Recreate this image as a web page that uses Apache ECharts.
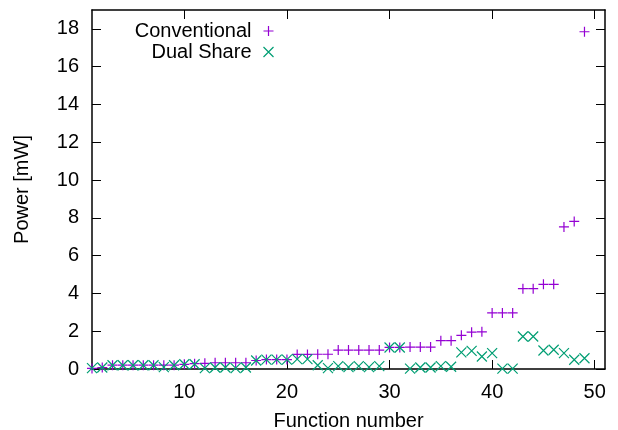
<!DOCTYPE html>
<html>
<head>
<meta charset="utf-8">
<script src="https://cdn.jsdelivr.net/npm/echarts@6/dist/echarts.min.js"></script>
<style>html,body{margin:0;padding:0;background:#fff}#c{width:618px;height:430px}</style>
</head>
<body>
<div id="c"></div>
<script>
const functionNumbers = [1,2,3,4,5,6,7,8,9,10,11,12,13,14,15,16,17,18,19,20,21,22,23,24,25,26,27,28,29,30,31,32,33,34,35,36,37,38,39,40,41,42,43,44,45,46,47,48,49];
const conventional = [0.03,0.08,0.2,0.2,0.2,0.2,0.2,0.2,0.2,0.25,0.28,0.3,0.33,0.33,0.33,0.33,0.45,0.5,0.5,0.5,0.77,0.77,0.78,0.78,1.0,1.0,1.0,1.0,1.0,1.14,1.14,1.16,1.16,1.16,1.5,1.5,1.78,1.95,1.97,2.97,2.97,2.97,4.25,4.25,4.48,4.48,7.52,7.81,17.85];
const dualShare = [0.05,0.08,0.2,0.2,0.2,0.2,0.2,0.1,0.2,0.25,0.25,0.05,0.08,0.08,0.05,0.08,0.45,0.5,0.5,0.5,0.52,0.52,0.2,0.05,0.15,0.1,0.15,0.1,0.15,1.14,1.14,0.02,0.08,0.08,0.15,0.12,0.88,0.96,0.66,0.84,0.02,0.02,1.72,1.72,0.98,1.02,0.84,0.49,0.57];
const xTicks = [10,20,30,40,50];
const yTicks = [0,2,4,6,8,10,12,14,16,18];
const seriesNames = ['Conventional','Dual Share'];

const PLUS = 'path://M0,5L10,5M5,0L5,10';
const CROSS = 'path://M0,0L10,10M10,0L0,10';
const C1 = '#9400d3', C2 = '#009e73';
const FONT = 'Liberation Sans';
const FS = 20;

const chart = echarts.init(document.getElementById('c'), null, {renderer:'canvas'});
const axisLineStyle = {color:'#000', width:1.5};
const tickStyle = {color:'#000', width:1};
function xAxisDef(pos, showLabel){
  return {
    type:'value', position:pos, min:1, max:51,
    axisLine:{show:true, onZero:false, lineStyle:axisLineStyle},
    axisTick:{show:true, inside:true, length:9, customValues:xTicks, lineStyle:tickStyle},
    axisLabel:{show:showLabel, customValues:xTicks, color:'#000', fontFamily:FONT, fontSize:FS, margin:13},
    splitLine:{show:false},
    name: showLabel ? 'Function number' : '',
    nameLocation:'middle', nameGap:42,
    nameTextStyle:{color:'#000', fontFamily:FONT, fontSize:FS}
  };
}
function yAxisDef(pos, showLabel){
  return {
    type:'value', position:pos, min:0, max:19,
    axisLine:{show:true, onZero:false, lineStyle:axisLineStyle},
    axisTick:{show:true, inside:true, length:9, customValues:yTicks, lineStyle:tickStyle},
    axisLabel:{show:showLabel, customValues:yTicks, color:'#000', fontFamily:FONT, fontSize:FS, margin:13},
    splitLine:{show:false},
    name: showLabel ? 'Power [mW]' : '',
    nameLocation:'middle', nameGap:60, nameRotate:90,
    nameTextStyle:{color:'#000', fontFamily:FONT, fontSize:FS}
  };
}
chart.setOption({
  animation:false,
  backgroundColor:'#fff',
  grid:{left:92, right:13, top:10, bottom:61, containLabel:false, outerBoundsMode:'none'},
  xAxis:[xAxisDef('bottom', true), xAxisDef('top', false)],
  yAxis:[yAxisDef('left', true), yAxisDef('right', false)],
  legend:{
    orient:'vertical', align:'right', right:342, top:21, padding:0, itemGap:1,
    itemWidth:10, itemHeight:10,
    textStyle:{color:'#000', fontFamily:FONT, fontSize:FS, padding:[0,7,0,0]},
    data:[
      {name:seriesNames[0], icon:PLUS, itemStyle:{color:'none', borderColor:C1, borderWidth:1.2}},
      {name:seriesNames[1], icon:CROSS, itemStyle:{color:'none', borderColor:C2, borderWidth:1.2}}
    ]
  },
  series:[
    {name:seriesNames[0], type:'scatter', xAxisIndex:0, yAxisIndex:0, symbol:PLUS, symbolSize:10,
     itemStyle:{color:'none', borderColor:C1, borderWidth:1.2, opacity:1},
     data: functionNumbers.map((n,i)=>[n, conventional[i]])},
    {name:seriesNames[1], type:'scatter', xAxisIndex:0, yAxisIndex:0, symbol:CROSS, symbolSize:10,
     itemStyle:{color:'none', borderColor:C2, borderWidth:1.2, opacity:1},
     data: functionNumbers.map((n,i)=>[n, dualShare[i]])}
  ]
});
</script>
</body>
</html>
